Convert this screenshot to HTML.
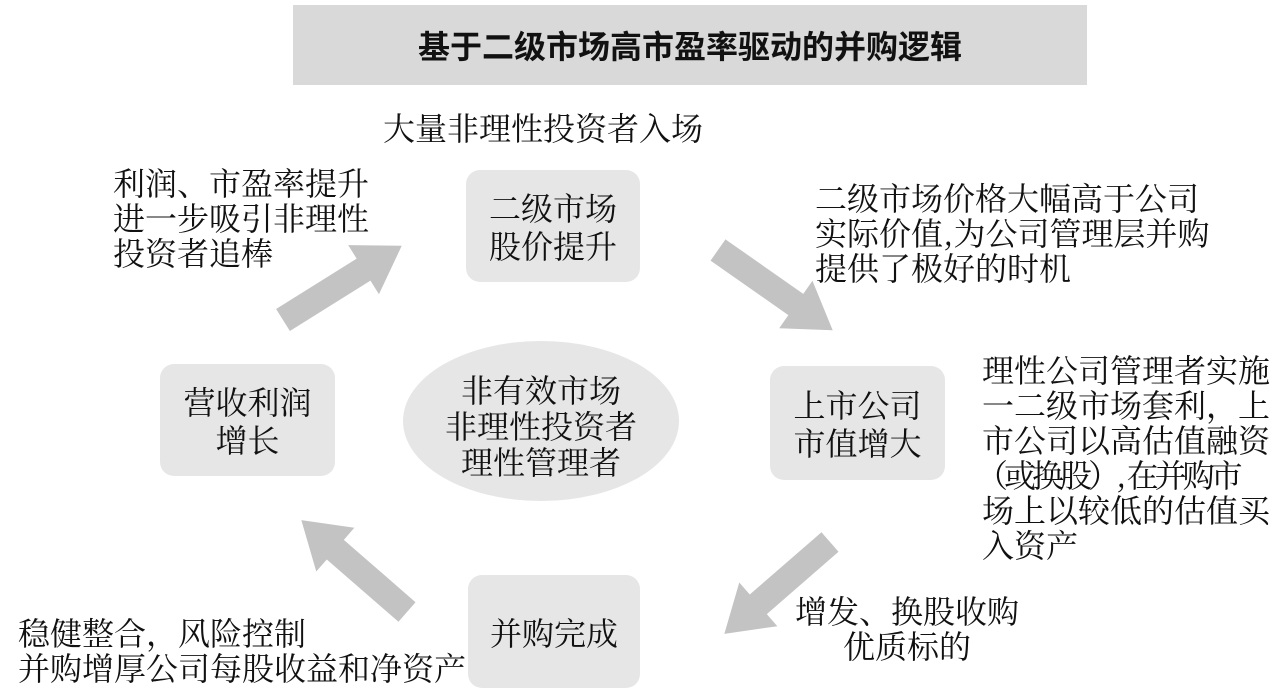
<!DOCTYPE html>
<html><head><meta charset="utf-8"><style>
body{margin:0;width:1280px;height:697px;background:#fff;overflow:hidden;position:relative;font-family:"Noto Serif CJK SC","Liberation Serif",serif;color:#111}
.t{position:absolute;font-size:32px;line-height:35px;white-space:nowrap}
.box{position:absolute;background:#e6e6e6;border-radius:14px;display:flex;align-items:center;justify-content:center;text-align:center;font-size:32px;line-height:38px}
</style></head><body>
<div style="position:absolute;left:293px;top:5px;width:794px;height:80px;background:#d9d9d9;display:flex;align-items:center;justify-content:center;font-size:32px;font-weight:bold;font-family:'Noto Sans CJK SC',sans-serif">基于二级市场高市盈率驱动的并购逻辑</div>
<svg width="1280" height="697" style="position:absolute;left:0;top:0">
<defs><polygon id="ar" points="0,-13 95,-13 95,-29 140,0 95,29 95,13 0,13" fill="#c3c3c3"/></defs>
<use href="#ar" transform="translate(283,320) rotate(-32)"/>
<use href="#ar" transform="translate(718,250) rotate(35)"/>
<use href="#ar" transform="translate(830,542) rotate(139)"/>
<use href="#ar" transform="translate(407,612) rotate(-139)"/>
<ellipse cx="541" cy="421" rx="138" ry="80" fill="#e6e6e6"/>
</svg>
<div class="box" style="left:466px;top:170px;width:174px;height:112px">二级市场<br>股价提升</div>
<div class="box" style="left:770px;top:366px;width:175px;height:114px">上市公司<br>市值增大</div>
<div class="box" style="left:160px;top:364px;width:175px;height:112px">营收利润<br>增长</div>
<div class="box" style="left:468px;top:575px;width:172px;height:113px">并购完成</div>
<div class="box" style="left:403px;top:345px;width:276px;height:160px;background:none;line-height:36px">非有效市场<br>非理性投资者<br>理性管理者</div>
<div class="t" style="left:383px;top:110px">大量非理性投资者入场</div>
<div class="t" style="left:113px;top:165px">利润、市盈率提升<br>进一步吸引非理性<br>投资者追棒</div>
<div class="t" style="left:815px;top:180px">二级市场价格大幅高于公司<br>实际价值,为公司管理层并购<br>提供了极好的时机</div>
<div class="t" style="left:982px;top:352px">理性公司管理者实施<br>一二级市场套利，上<br>市公司以高估值融资<br><span style="letter-spacing:-4px;margin-left:-6px">（或换股）, 在并购市</span><br>场上以较低的估值买<br>入资产</div>
<div class="t" style="left:795px;top:593px">增发、换股收购</div>
<div class="t" style="left:843px;top:628px">优质标的</div>
<div class="t" style="left:18px;top:615px">稳健整合，风险控制<br>并购增厚公司每股收益和净资产</div>
</body></html>
